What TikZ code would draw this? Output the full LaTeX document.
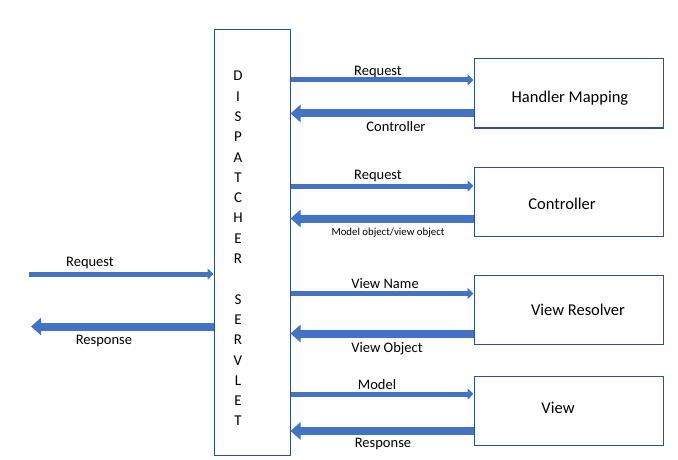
\documentclass[tikz,border=0pt]{standalone}
\usepackage{fontspec}
\setmainfont{Carlito}
\usetikzlibrary{arrows.meta}
\definecolor{arrowBlue}{HTML}{4472C4}
\definecolor{boxBlue}{HTML}{2F528F}

\begin{document}
\begin{tikzpicture}[x=1pt, y=1pt,
rectServlet/.style={rectangle, draw=boxBlue, line width=1pt, fill=white, minimum width=76pt, minimum height=425pt, inner sep=0pt},
rectBox/.style={rectangle, draw=boxBlue, line width=1pt, fill=white, minimum width=189pt, minimum height=69pt, inner sep=0pt},
rectText/.style={font=\fontsize{16.5}{19}\selectfont, inner sep=0pt},
letterText/.style={font=\fontsize{15}{17}\selectfont, inner sep=0pt},
arrowText/.style={font=\fontsize{14.5}{17}\selectfont, inner sep=0pt},
arrowTextSmall/.style={font=\fontsize{10.8}{13}\selectfont, inner sep=0pt},
fwdArrow/.style={draw=arrowBlue, line width=5pt, -{Triangle[length=6pt, width=11pt, fill=arrowBlue]}},
bwdArrow/.style={draw=arrowBlue, line width=8pt, -{Triangle[length=10pt, width=17pt, fill=arrowBlue]}}]

\useasboundingbox (0,0) rectangle (678,459);

\node[rectServlet] (disp) at (252, 216.5) {};
\foreach \ch [count=\i] in {D,I,S,P,A,T,C,H,E,R}
	\node[letterText] (dispA\i) at (238, 383-20.3*\i+20.3) {\ch};
\foreach \ch [count=\i] in {S,E,R,V,L,E,T}
	\node[letterText] (dispB\i) at (238, 159.7-20.3*\i+20.3) {\ch};

\node[rectBox] (hm) at (568.5, 365.5) {};
\node[rectBox] (ctrl) at (568.5, 257) {};
\node[rectBox] (vr) at (568.5, 149.5) {};
\node[rectBox] (view) at (568.5, 48.5) {};

\node[rectText] (hmText) at (570, 361) {Handler Mapping};
\node[rectText] (ctrlText) at (562, 255) {Controller};
\node[rectText] (vrText) at (578, 149) {View Resolver};
\node[rectText] (viewText) at (558, 51) {View};

\coordinate (hmIn) at ([yshift=-21.5pt]hm.north west);
\coordinate (hmOut) at ([yshift=15pt]hm.south west);
\coordinate (ctrlIn) at ([yshift=-19pt]ctrl.north west);
\coordinate (ctrlOut) at ([yshift=18.5pt]ctrl.south west);
\coordinate (vrIn) at ([yshift=-19pt]vr.north west);
\coordinate (vrOut) at ([yshift=11pt]vr.south west);
\coordinate (viewIn) at ([yshift=-18.5pt]view.north west);
\coordinate (viewOut) at ([yshift=14.5pt]view.south west);
\coordinate (clientIn) at (29, 185);
\coordinate (clientOut) at (31, 132.5);

\node[arrowText] (reqLeft) at (90, 196) {Request};
\node[arrowText] (respLeft) at (104, 118) {Response};
\node[arrowText] (hmReq) at (378, 387) {Request};
\node[arrowText] (hmResp) at (396, 332) {Controller};
\node[arrowText] (ctrlReq) at (378, 283) {Request};
\node[arrowTextSmall] (ctrlResp) at (388, 226.5) {Model object/view object};
\node[arrowText] (vrReq) at (385, 175) {View Name};
\node[arrowText] (vrResp) at (387, 110) {View Object};
\node[arrowText] (viewReq) at (377, 74) {Model};
\node[arrowText] (viewResp) at (383, 15) {Response};

\path	(clientIn) 				edge[fwdArrow] 			(disp.west |- clientIn)
		(disp.west |- clientOut) edge[bwdArrow] 			(clientOut)
		(disp.east |- hmIn) 	edge[fwdArrow] 			(hmIn)
		(hmOut) 				edge[bwdArrow] 			(disp.east |- hmOut)
		(disp.east |- ctrlIn) 	edge[fwdArrow] 			(ctrlIn)
		(ctrlOut) 				edge[bwdArrow] 			(disp.east |- ctrlOut)
		(disp.east |- vrIn) 	edge[fwdArrow] 			(vrIn)
		(vrOut) 				edge[bwdArrow] 			(disp.east |- vrOut)
		(disp.east |- viewIn) 	edge[fwdArrow] 			(viewIn)
		(viewOut) 				edge[bwdArrow] 			(disp.east |- viewOut);

\end{tikzpicture}
\end{document}
